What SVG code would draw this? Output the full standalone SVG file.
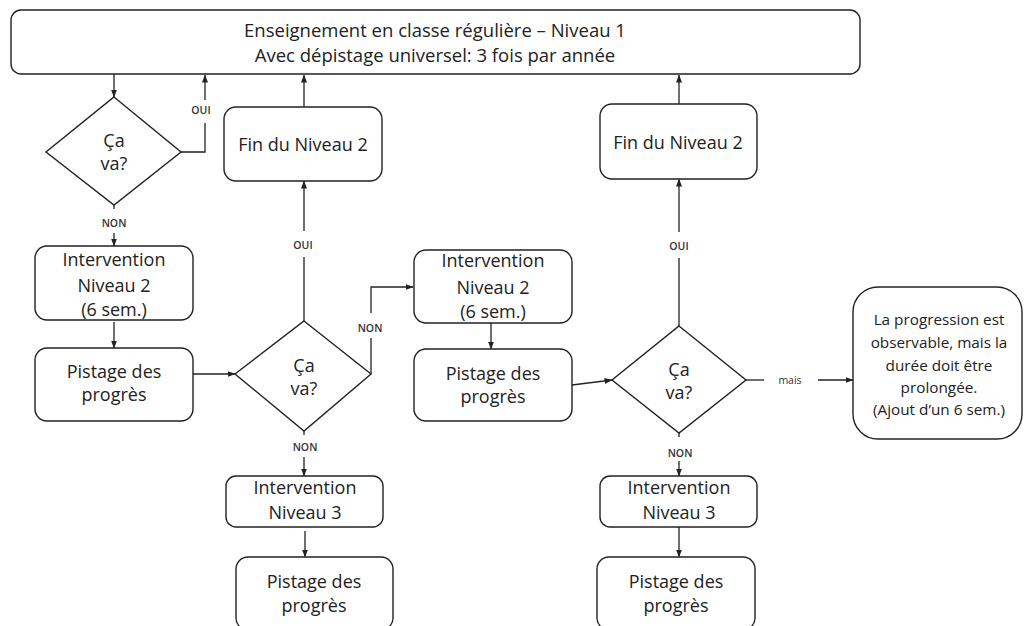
<svg xmlns="http://www.w3.org/2000/svg" width="1026" height="626" viewBox="0 0 1026 626">
<style>
.box{fill:#fff;stroke:#222;stroke-width:1.4}
.t{font-family:"Open Sans","Liberation Sans",sans-serif;font-size:18px;fill:#222;text-anchor:middle}
.tt{font-size:18.5px}
.tr{font-size:15.3px}
.lbl{font-family:"Open Sans","Liberation Sans",sans-serif;font-size:10.5px;font-weight:600;fill:#333;text-anchor:middle}
.ln{fill:none;stroke:#222;stroke-width:1.3}
.ar{fill:none;stroke:#222;stroke-width:1.3;marker-end:url(#ah)}
</style>
<defs>
<marker id="ah" markerUnits="userSpaceOnUse" markerWidth="8" markerHeight="8" viewBox="0 0 8 8" refX="7.5" refY="4" orient="auto">
<path d="M0,1 L8,4 L0,7 Z" fill="#222"/>
</marker>
</defs>
<rect width="1026" height="626" fill="#fff"/>

<g id="connectors">
<line class="ar" x1="114" y1="74" x2="114" y2="97"/>
<polyline class="ln" points="181,152 205,152 205,123"/>
<line class="ar" x1="205" y1="100" x2="205" y2="75"/>
<line class="ln" x1="114" y1="205" x2="114" y2="209"/>
<line class="ar" x1="114" y1="233" x2="114" y2="246"/>
<line class="ar" x1="114" y1="322" x2="114" y2="348"/>
<line class="ar" x1="193" y1="374" x2="235" y2="374"/>
<line class="ln" x1="304" y1="321" x2="304" y2="257"/>
<line class="ar" x1="304" y1="231" x2="304" y2="181"/>
<line class="ar" x1="304" y1="107" x2="304" y2="75"/>
<line class="ln" x1="371" y1="374" x2="371" y2="338"/>
<polyline class="ar" points="371,313 371,287 413,287"/>
<line class="ar" x1="491" y1="323" x2="491" y2="349"/>
<line class="ar" x1="572" y1="385" x2="612" y2="380"/>
<line class="ln" x1="679" y1="326" x2="679" y2="258"/>
<line class="ar" x1="679" y1="232" x2="679" y2="179"/>
<line class="ar" x1="679" y1="104" x2="679" y2="75"/>
<line class="ln" x1="746" y1="380" x2="764" y2="380"/>
<line class="ar" x1="818" y1="380" x2="853" y2="380"/>
<line class="ln" x1="304" y1="431" x2="304" y2="435"/>
<line class="ar" x1="304" y1="457" x2="304" y2="476"/>
<line class="ar" x1="305" y1="531" x2="305" y2="557"/>
<line class="ln" x1="679" y1="433" x2="679" y2="437"/>
<line class="ar" x1="679" y1="461" x2="679" y2="476"/>
<line class="ar" x1="679" y1="527" x2="679" y2="557"/>
<text class="lbl" x="201" y="114">OUI</text>
<text class="lbl" x="114" y="227">NON</text>
<text class="lbl" x="303" y="249">OUI</text>
<text class="lbl" x="370" y="332">NON</text>
<text class="lbl" x="305" y="451">NON</text>
<text class="lbl" x="679" y="250">OUI</text>
<text class="lbl" x="680" y="457">NON</text>
<text class="lbl" x="790" y="384" style="font-weight:400">mais</text>
</g>

<g id="top">
<rect class="box" x="11" y="10" width="849" height="64" rx="10"/>
<text class="t tt" x="435" y="37">Enseignement en classe régulière – Niveau 1</text>
<text class="t tt" x="435" y="62">Avec dépistage universel: 3 fois par année</text>
</g>

<g id="diamond1">
<polygon class="box" points="114,97 181,152 114,205 46,152"/>
<text class="t" x="114" y="147">Ça</text>
<text class="t" x="114" y="170">va?</text>
</g>

<g id="fin1">
<rect class="box" x="224" y="107" width="158" height="74" rx="12"/>
<text class="t" x="303" y="151">Fin du Niveau 2</text>
</g>

<g id="fin2">
<rect class="box" x="600" y="104" width="157" height="75" rx="12"/>
<text class="t" x="678" y="149">Fin du Niveau 2</text>
</g>

<g id="int2a">
<rect class="box" x="35" y="246" width="158" height="74" rx="12"/>
<text class="t" x="114" y="266">Intervention</text>
<text class="t" x="114" y="292">Niveau 2</text>
<text class="t" x="114" y="316">(6 sem.)</text>
</g>

<g id="pist1">
<rect class="box" x="35" y="348" width="158" height="73" rx="12"/>
<text class="t" x="114" y="378">Pistage des</text>
<text class="t" x="114" y="401">progrès</text>
</g>

<g id="diamond2">
<polygon class="box" points="304,321 371,374 304,431 235,374"/>
<text class="t" x="304" y="372">Ça</text>
<text class="t" x="304" y="395">va?</text>
</g>

<g id="int2b">
<rect class="box" x="414" y="250" width="158" height="73" rx="12"/>
<text class="t" x="493" y="267">Intervention</text>
<text class="t" x="493" y="294">Niveau 2</text>
<text class="t" x="493" y="318">(6 sem.)</text>
</g>

<g id="pist2">
<rect class="box" x="414" y="349" width="158" height="72" rx="12"/>
<text class="t" x="493" y="380">Pistage des</text>
<text class="t" x="493" y="403">progrès</text>
</g>

<g id="diamond3">
<polygon class="box" points="679,326 746,380 679,433 612,380"/>
<text class="t" x="679" y="376">Ça</text>
<text class="t" x="679" y="399">va?</text>
</g>

<g id="result">
<rect class="box" x="853" y="287" width="169" height="152" rx="25"/>
<text class="t tr" x="939" y="325">La progression est</text>
<text class="t tr" x="939" y="348">observable, mais la</text>
<text class="t tr" x="939" y="371">durée doit être</text>
<text class="t tr" x="939" y="393">prolongée.</text>
<text class="t tr" x="939" y="415">(Ajout d’un 6 sem.)</text>
</g>

<g id="int3a">
<rect class="box" x="226" y="476" width="157" height="51" rx="10"/>
<text class="t" x="305" y="494">Intervention</text>
<text class="t" x="305" y="519">Niveau 3</text>
</g>

<g id="pist3">
<rect class="box" x="236" y="557" width="157" height="73" rx="12"/>
<text class="t" x="314" y="588">Pistage des</text>
<text class="t" x="314" y="612">progrès</text>
</g>

<g id="int3b">
<rect class="box" x="600" y="476" width="157" height="51" rx="10"/>
<text class="t" x="679" y="494">Intervention</text>
<text class="t" x="679" y="519">Niveau 3</text>
</g>

<g id="pist4">
<rect class="box" x="597" y="557" width="158" height="73" rx="12"/>
<text class="t" x="676" y="588">Pistage des</text>
<text class="t" x="676" y="612">progrès</text>
</g>
</svg>
